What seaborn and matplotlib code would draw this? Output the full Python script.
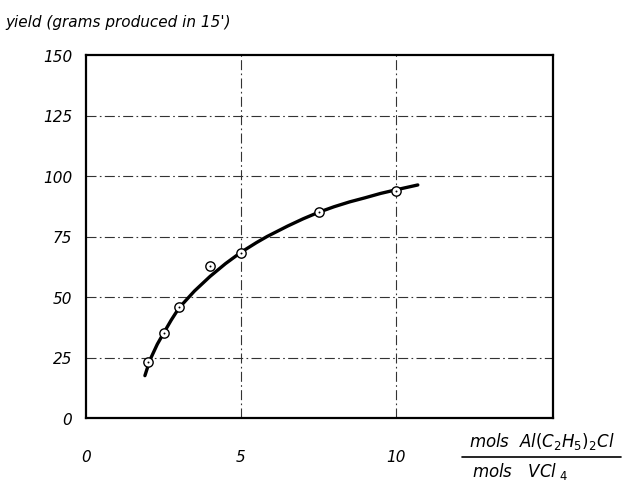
import matplotlib
matplotlib.use("Agg")
import matplotlib.pyplot as plt
import seaborn as sns
import pandas as pd
from matplotlib.lines import Line2D

# measured points (ratio, yield)
ratio = [2.0, 2.5, 3.0, 4.0, 5.0, 7.5, 10.0]
yield_g = [23, 35, 46, 63, 68, 85, 94]

# smooth curve
curve_x = [1.9, 2.0, 2.1, 2.3, 2.5, 2.75, 3.0, 3.5, 4.0, 4.5, 5.0, 5.5, 5.84, 6.5, 7.0, 7.5, 8.0, 8.5, 9.0, 9.5, 10.0, 10.7]
curve_y = [17.5, 21.5, 25.0, 30.5, 35.0, 40.5, 45.5, 52.5, 58.5, 63.8, 68.5, 72.5, 75.0, 79.3, 82.3, 85.0, 87.3, 89.3, 91.0, 92.8, 94.3, 96.3]

y_ticks = [0, 25, 50, 75, 100, 125, 150]
x_ticks = [0, 5, 10]

sns.set_style("white")
plt.rcParams['font.family'] = ['DejaVu Sans']
plt.rcParams['mathtext.fontset'] = 'dejavusans'
plt.rcParams['text.color'] = 'black'
plt.rcParams['xtick.color'] = 'black'
plt.rcParams['ytick.color'] = 'black'

fig = plt.figure(figsize=(6.23, 4.81), dpi=100)
ax = fig.add_axes([86/623, 1 - 419/481, (553-86)/623, (419-56)/481])

curve = pd.DataFrame({"x": curve_x, "y": curve_y})
pts = pd.DataFrame({"x": ratio, "y": yield_g})

ax.set_xlim(0, 15.06)
ax.set_ylim(0, 150)

for yv in y_ticks[1:-1]:
    ax.axhline(yv, color="#333333", lw=0.8, ls=(0, (9, 3, 1.5, 3)), zorder=1)
for xv in x_ticks[1:]:
    ax.axvline(xv, color="#333333", lw=0.8, ls=(0, (9, 3, 1.5, 3)), zorder=1)

sns.lineplot(data=curve, x="x", y="y", ax=ax, color="black", lw=2.4, sort=False, zorder=3)
sns.scatterplot(data=pts, x="x", y="y", ax=ax, s=45, facecolor="white",
                edgecolor="black", linewidth=1.0, zorder=4)
sns.scatterplot(data=pts, x="x", y="y", ax=ax, s=2, color="black", linewidth=0, zorder=5)

ax.set_xticks(x_ticks)
ax.set_yticks(y_ticks)
ax.set_xticklabels([str(v) for v in x_ticks], fontstyle="italic", fontsize=11)
ax.set_yticklabels([str(v) for v in y_ticks], fontstyle="italic", fontsize=11)
ax.tick_params(axis="x", length=0, pad=22, labelcolor="black")
ax.tick_params(axis="y", length=0, pad=10, labelcolor="black")
ax.set_xlabel("")
ax.set_ylabel("")
for s in ax.spines.values():
    s.set_visible(True)
    s.set_color("black")
    s.set_linewidth(1.6)

fig.text(5/623, 1 - 22/481, "yield (grams produced in 15')", fontstyle="italic",
         fontsize=11, ha="left", va="center", color="black")

fig.text(542/623, 1 - 442/481, r"$mols\ \ Al(C_2H_5)_2Cl$", fontsize=12,
         ha="center", va="center", color="black")
fig.text(520/623, 1 - 472/481, r"$mols\ \ \ VCl_{\ 4}$", fontsize=12,
         ha="center", va="center", color="black")
fig.add_artist(Line2D([462/623, 621/623], [1 - 458/481, 1 - 458/481],
                      color="black", lw=1.2, transform=fig.transFigure))

fig.savefig("out.png", dpi=100)
